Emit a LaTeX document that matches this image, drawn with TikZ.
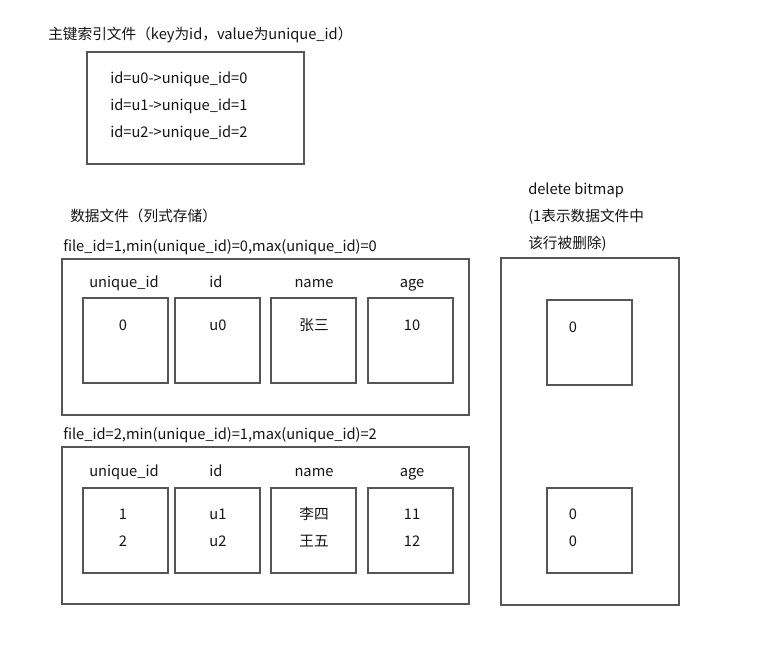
\documentclass[tikz,border=0pt]{standalone}
\usepackage{fontspec}
\setmainfont{Noto Sans CJK SC}
\usetikzlibrary{positioning}
\definecolor{cLine}{RGB}{85,85,85}
\definecolor{cText}{RGB}{20,20,20}
\tikzset{
  basebox/.style={rectangle,draw=cLine,line width=1.5pt,inner sep=0pt},
  cellbox/.style={basebox,minimum width=63.75pt,minimum height=63.75pt},
  mtxt/.style={inner sep=0pt,text=cText,font=\fontsize{11}{20.25}\selectfont},
  txt/.style={mtxt,text height=11.2pt,text depth=2.6pt},
  ltxt/.style={txt,anchor=west},
  mltxt/.style={mtxt,anchor=west,align=left}
}

\begin{document}
\begin{tikzpicture}[x=0.75pt,y=-0.75pt]
  \useasboundingbox (0,0) rectangle (768,652);

  % Primary key index file
  \node[ltxt] (idxtitle) at (48,34) {主键索引文件（key为id，value为unique\_id）};
  \node[basebox,minimum width=162.75pt,minimum height=84pt] (idx) at (195.5,108) {};
  \node[mltxt] (idxmap) at (110,106)
      {id=u0->unique\_id=0\\id=u1->unique\_id=1\\id=u2->unique\_id=2};

  % Data files
  \node[ltxt] (datatitle) at (70,216) {数据文件（列式存储）};
  \node[ltxt] (f1title) at (63,246) {file\_id=1,min(unique\_id)=0,max(unique\_id)=0};
  \node[basebox,minimum width=305.25pt,minimum height=117pt] (file1) at (265.5,337) {};
  \node[ltxt] (f2title) at (63,434) {file\_id=2,min(unique\_id)=1,max(unique\_id)=2};
  \node[basebox,minimum width=305.25pt,minimum height=117.75pt] (file2) at (265.5,525.5) {};

  % Columns
  \foreach \name/\cx in {unique\_id/124, id/216, name/314, age/412}{
    \node[txt] (h1\cx) at (\cx,282) {\name};
    \node[txt] (h2\cx) at (\cx,471) {\name};
  }
  \foreach \cx in {125, 217.5, 313, 410}{
    \node[cellbox] (c1\cx) at (\cx,341) {};
    \node[cellbox] (c2\cx) at (\cx,530) {};
  }

  % Column values
  \node[txt] (v1a) at (123,325) {0};
  \node[txt] (v1b) at (218,325) {u0};
  \node[txt] (v1c) at (314,325) {张三};
  \node[txt] (v1d) at (412,325) {10};
  \node[mtxt,align=center] (v2a) at (123,527.5) {1\\2};
  \node[mtxt,align=center] (v2b) at (218,527.5) {u1\\u2};
  \node[mtxt,align=center] (v2c) at (314,527.5) {李四\\王五};
  \node[mtxt,align=center] (v2d) at (412,527.5) {11\\12};

  % Delete bitmap
  \node[mltxt] (bmtitle) at (528,217) {delete bitmap\\(1表示数据文件中\\该行被删除)};
  \node[basebox,minimum width=133.5pt,minimum height=260.25pt] (bitmap) at (590,431.5) {};
  \node[cellbox] (bm1) at (589.5,342.5) {};
  \node[cellbox] (bm2) at (589.5,530) {};
  \node[txt] (bv1) at (573,327) {0};
  \node[mtxt,align=center] (bv2) at (573,527.5) {0\\0};

\end{tikzpicture}
\end{document}
